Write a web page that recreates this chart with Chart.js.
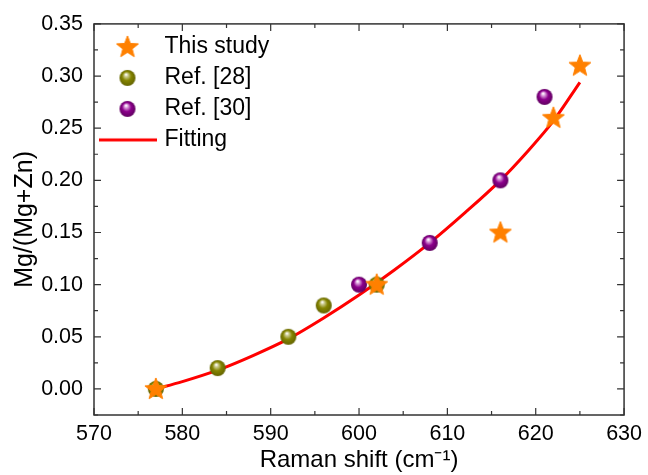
<!DOCTYPE html>
<html>
<head>
<meta charset="utf-8">
<script src="https://cdn.jsdelivr.net/npm/chart.js@4.4.1/dist/chart.umd.min.js"></script>
<style>
  body { margin: 0; background: #fff; }
  #wrap { width: 648px; height: 475px; }
</style>
</head>
<body>
<div id="wrap"><canvas id="ramanChart" width="648" height="475"></canvas></div>
<script>
// data
const studyX = [577, 602, 616, 622, 625];
const studyY = [0.00, 0.10, 0.15, 0.26, 0.31];
const ref28X = [577, 584, 592, 596, 602];
const ref28Y = [0.00, 0.02, 0.05, 0.08, 0.10];
const ref30X = [600, 608, 616, 621];
const ref30Y = [0.10, 0.14, 0.20, 0.28];
const fitX = [577, 580, 584, 588, 592, 596, 600, 604, 608, 612, 616, 619, 622, 625];
const fitY = [0.000, 0.007, 0.018, 0.032, 0.048, 0.068, 0.090, 0.114, 0.140, 0.169, 0.200, 0.227, 0.257, 0.294];
const xTicks = [570, 580, 590, 600, 610, 620, 630];
const yTicks = [0.00, 0.05, 0.10, 0.15, 0.20, 0.25, 0.30, 0.35];

const FONT = "'Liberation Sans', Arial, sans-serif";

function toPoints(xs, ys) {
    return xs.map((x, i) => ({ x: x, y: ys[i] }));
}

// orange star marker
function makeStar(color) {
    const c = document.createElement('canvas');
    c.width = 26; c.height = 26;
    const g = c.getContext('2d');
    const R = 11.5, r = 4.9;
    g.beginPath();
    for (let i = 0; i < 10; i++) {
        const rad = i % 2 === 0 ? R : r;
        const a = -Math.PI / 2 + i * Math.PI / 5;
        const px = 13 + rad * Math.cos(a), py = 13.5 + rad * Math.sin(a);
        if (i === 0) g.moveTo(px, py); else g.lineTo(px, py);
    }
    g.closePath();
    g.fillStyle = color;
    g.fill();
    g.strokeStyle = color;
    g.lineWidth = 1;
    g.stroke();
    return c;
}

// shaded ball marker
function makeBall(light, base, dark) {
    const c = document.createElement('canvas');
    c.width = 18; c.height = 18;
    const g = c.getContext('2d');
    const grad = g.createRadialGradient(7.5, 5.5, 0.5, 9, 9, 8.5);
    grad.addColorStop(0, '#ffffff');
    grad.addColorStop(0.15, light);
    grad.addColorStop(0.5, base);
    grad.addColorStop(1, dark);
    g.beginPath();
    g.arc(9, 9, 8, 0, Math.PI * 2);
    g.fillStyle = grad;
    g.fill();
    return c;
}

// legend sample for the fit line
function makeLineSample() {
    const c = document.createElement('canvas');
    c.width = 58; c.height = 6;
    const g = c.getContext('2d');
    g.fillStyle = '#ff0000';
    g.fillRect(0, 1.5, 58, 3);
    return c;
}

const starImg = makeStar('#ff8000');
const oliveImg = makeBall('#d0d098', '#858500', '#606000');
const purpleImg = makeBall('#e0a8e0', '#8c008c', '#5c005c');
const lineImg = makeLineSample();

// frame on all four sides with inward major and minor ticks
const framePlugin = {
    id: 'frame',
    afterLayout(chart) {
        // legend sits inside the plot, nudged down a little
        chart.legend.top = chart.chartArea.top + 3.5;
    },
    beforeDatasetsDraw(chart) {
        const { ctx, chartArea: a, scales: { x, y } } = chart;
        ctx.save();
        ctx.strokeStyle = '#333333';
        ctx.lineWidth = 1.5;
        ctx.strokeRect(a.left, a.top, a.right - a.left, a.bottom - a.top);
        ctx.lineWidth = 1.2;
        ctx.beginPath();
        const xStep = xTicks[1] - xTicks[0];
        for (let v = x.min; v <= x.max + 1e-9; v += xStep / 2) {
            const px = x.getPixelForValue(v);
            const major = xTicks.some(t => Math.abs(t - v) < 1e-6);
            const len = major ? 7 : 4;
            ctx.moveTo(px, a.bottom); ctx.lineTo(px, a.bottom - len);
            ctx.moveTo(px, a.top); ctx.lineTo(px, a.top + len);
        }
        const yStep = yTicks[1] - yTicks[0];
        for (let v = yTicks[0] - yStep / 2; v <= y.max + 1e-9; v += yStep / 2) {
            if (v < y.min - 1e-9) continue;
            const py = y.getPixelForValue(v);
            const major = yTicks.some(t => Math.abs(t - v) < 1e-6);
            const len = major ? 7 : 4;
            ctx.moveTo(a.left, py); ctx.lineTo(a.left + len, py);
            ctx.moveTo(a.right, py); ctx.lineTo(a.right - len, py);
        }
        ctx.stroke();
        ctx.restore();
    }
};

const ctx = document.getElementById('ramanChart').getContext('2d');
const ramanChart = new Chart(ctx, {
    type: 'scatter',
    data: {
        datasets: [
            {
                label: 'This study',
                data: toPoints(studyX, studyY),
                pointStyle: starImg,
                pointRadius: 11
            },
            {
                label: 'Ref. [28]',
                data: toPoints(ref28X, ref28Y),
                pointStyle: oliveImg,
                pointRadius: 8
            },
            {
                label: 'Ref. [30]',
                data: toPoints(ref30X, ref30Y),
                pointStyle: purpleImg,
                pointRadius: 8
            },
            {
                label: 'Fitting',
                data: toPoints(fitX, fitY),
                showLine: true,
                borderColor: '#ff0000',
                borderWidth: 3,
                cubicInterpolationMode: 'monotone',
                pointStyle: lineImg,
                pointRadius: 0
            }
        ]
    },
    options: {
        responsive: false,
        animation: false,
        events: [],
        layout: { padding: { top: 20, right: 18, left: 0, bottom: 0 } },
        plugins: {
            tooltip: { enabled: false },
            legend: {
                position: 'chartArea',
                align: 'start',
                labels: {
                    usePointStyle: true,
                    pointStyleWidth: 51,
                    padding: 8,
                    color: '#000',
                    font: { family: FONT, size: 23 }
                }
            }
        },
        scales: {
            x: {
                type: 'linear',
                min: 570,
                max: 630,
                afterFit(scale) { scale.height = 60; },
                afterBuildTicks(scale) { scale.ticks = xTicks.map(v => ({ value: v })); },
                grid: { display: false, drawTicks: false },
                border: { display: false },
                ticks: {
                    padding: 6,
                    color: '#000',
                    font: { family: FONT, size: 21.5 },
                    maxRotation: 0
                },
                title: {
                    display: true,
                    text: 'Raman shift (cm\u207B\u00B9)',
                    color: '#000',
                    font: { family: FONT, size: 24 },
                    padding: { top: 0, bottom: 0 }
                }
            },
            y: {
                type: 'linear',
                min: -0.025,
                max: 0.35,
                afterFit(scale) { scale.width = 94; },
                afterBuildTicks(scale) { scale.ticks = yTicks.map(v => ({ value: v })); },
                grid: { display: false, drawTicks: false },
                border: { display: false },
                ticks: {
                    padding: 11,
                    color: '#000',
                    font: { family: FONT, size: 21.5 },
                    callback: v => v.toFixed(2)
                },
                title: {
                    display: true,
                    text: 'Mg/(Mg+Zn)',
                    color: '#000',
                    font: { family: FONT, size: 25 },
                    padding: { top: 10, bottom: 0 }
                }
            }
        }
    },
    plugins: [framePlugin]
});
</script>
</body>
</html>
